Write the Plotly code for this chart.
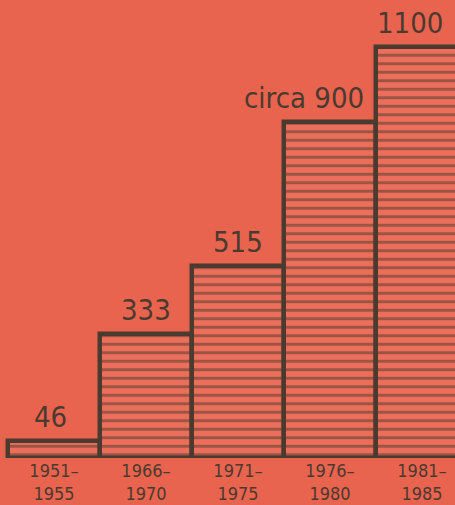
import plotly.graph_objects as go

periods = ["1951–<br>1955", "1966–<br>1970", "1971–<br>1975", "1976–<br>1980", "1981–<br>1985"]
values = [46, 333, 515, 900, 1100]
value_labels = ["46", "333", "515", "circa 900", "1100"]

BG = "#E8644F"
DARK = "#4B3A2F"
FONT = "Liberation Sans Narrow, DejaVu Sans Condensed, Roboto, sans-serif"

x = list(range(len(values)))
fig = go.Figure(go.Bar(
    x=x, y=values, width=1.0,
    marker=dict(color="#EC6E5B",
                line=dict(color=DARK, width=4.5),
                pattern=dict(shape="-", fgcolor=DARK, bgcolor="#EC6E5B", size=8.5, solidity=0.35)),
    hoverinfo="skip",
))

label_xshift = [-4, 0, 0, -26, -12]
for i, (v, t) in enumerate(zip(values, value_labels)):
    fig.add_annotation(x=i, y=v, text=t, showarrow=False, yanchor="bottom",
                       yshift=5, xshift=label_xshift[i],
                       font=dict(family=FONT, size=29, color=DARK))

fig.update_layout(
    width=455, height=505,
    margin=dict(l=0, r=0, t=0, b=47, autoexpand=False),
    paper_bgcolor=BG, plot_bgcolor=BG,
    showlegend=False,
    bargap=0,
    xaxis=dict(range=[-0.587, 4.359], tickmode="array", tickvals=x, ticktext=periods,
               showgrid=False, zeroline=False, showline=False, ticks="",
               automargin=False, ticklabelstandoff=0,
               tickfont=dict(family=FONT, size=18, color=DARK)),
    yaxis=dict(range=[0, 1225.8], visible=False, showgrid=False, zeroline=False,
               automargin=False),
)
fig.write_html("out.html", config={"displayModeBar": False},
               post_script="document.body.style.margin='0';document.body.style.background='" + BG + "';")
